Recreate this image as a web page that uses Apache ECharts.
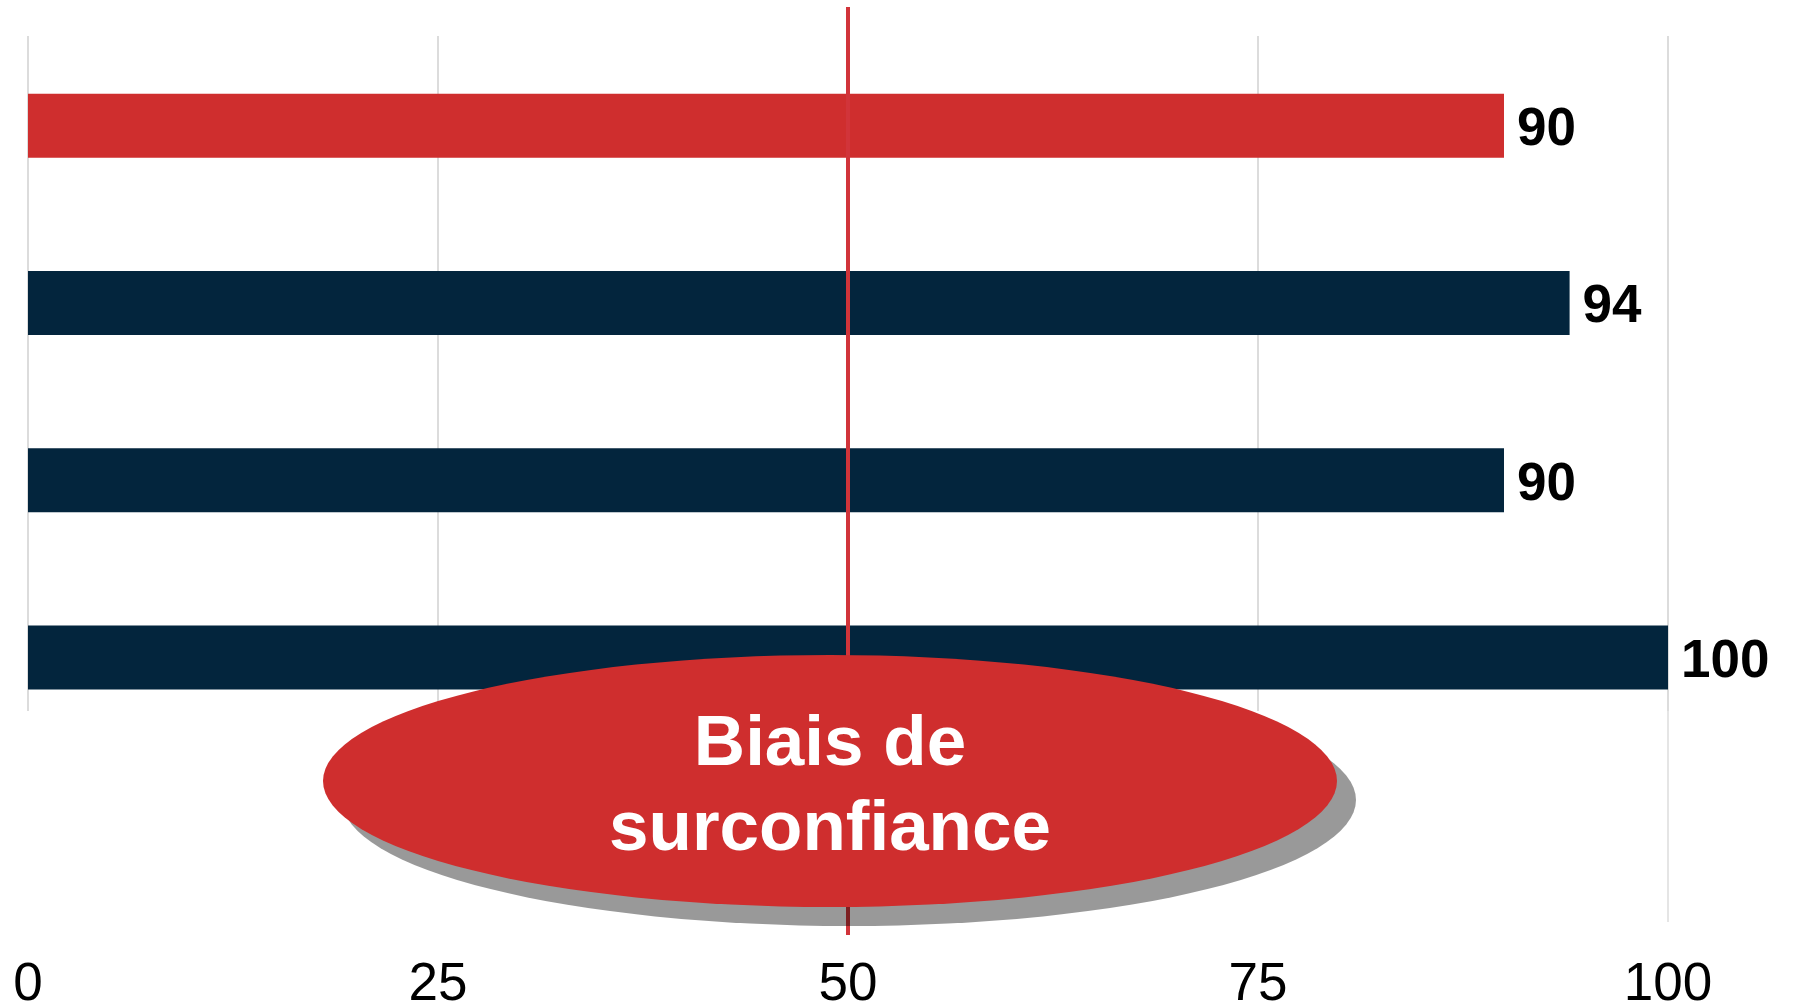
<!DOCTYPE html>
<html>
<head>
<meta charset="utf-8">
<style>
  html, body { margin: 0; padding: 0; background: #ffffff; }
  #chart { width: 1793px; height: 1006px; }
</style>
<script src="https://cdn.jsdelivr.net/npm/echarts@6/dist/echarts.min.js"></script>
</head>
<body>
<div id="chart"></div>
<script>
// Data
const categories = ['A', 'B', 'C', 'D'];
const values = [90, 94, 90, 100];
const tickValues = [0, 25, 50, 75, 100];
const referenceValue = 50;
const highlightIndex = 0;
const calloutLines = ['Biais de', 'surconfiance'];

// Styling
const FONT = '"Liberation Sans", Arial, Helvetica, sans-serif';
const RED = '#cf2e2e';
const NAVY = '#03253d';
const GRID_GRAY = '#dcdcdc';

const axisMin = tickValues[0];
const axisMax = tickValues[tickValues.length - 1];
const axisStep = tickValues[1] - tickValues[0];

const chart = echarts.init(document.getElementById('chart'), null, { renderer: 'canvas' });

const hiddenCategoryAxis = (gridIndex) => ({
  type: 'category',
  gridIndex: gridIndex,
  inverse: true,
  data: categories,
  axisLine: { show: false },
  axisTick: { show: false },
  axisLabel: { show: false },
  splitLine: { show: false }
});

chart.setOption({
  animation: false,
  backgroundColor: '#ffffff',
  grid: [
    // bars
    { left: 28, right: 125, top: 37, height: 709, outerBoundsMode: 'none', containLabel: false },
    // vertical guides inside the plot
    { left: 28, right: 125, top: 36, height: 675, outerBoundsMode: 'none', containLabel: false },
    // right-hand guide running down to the axis area
    { left: 28, right: 125, top: 36, height: 886, outerBoundsMode: 'none', containLabel: false }
  ],
  xAxis: [
    {
      type: 'value', gridIndex: 0,
      min: axisMin, max: axisMax, interval: axisStep,
      axisLine: { show: false },
      axisTick: { show: false },
      splitLine: { show: false },
      axisLabel: {
        color: '#000000', fontFamily: FONT, fontSize: 53,
        lineHeight: 53, margin: 213
      }
    },
    {
      type: 'value', gridIndex: 1,
      min: axisMin, max: axisMax, interval: axisStep,
      axisLine: { show: false },
      axisTick: { show: false },
      axisLabel: { show: false },
      splitLine: { show: true, lineStyle: { color: GRID_GRAY, width: 2 } }
    },
    {
      type: 'value', gridIndex: 2,
      min: axisMin, max: axisMax, interval: axisMax - axisMin,
      axisLine: { show: false },
      axisTick: { show: false },
      axisLabel: { show: false },
      splitLine: { show: true, showMinLine: false, lineStyle: { color: GRID_GRAY, width: 1.5 } }
    }
  ],
  yAxis: [hiddenCategoryAxis(0), hiddenCategoryAxis(1), hiddenCategoryAxis(2)],
  series: [
    {
      type: 'bar',
      xAxisIndex: 0,
      yAxisIndex: 0,
      data: values,
      barWidth: 64,
      z: 3,
      itemStyle: {
        color: (p) => (p.dataIndex === highlightIndex ? RED : NAVY)
      },
      label: {
        show: true,
        position: 'right',
        distance: 13,
        offset: [0, 5],
        color: '#000000',
        fontFamily: FONT,
        fontWeight: 'bold',
        fontSize: 53
      }
    }
  ]
});

// Reference line at the midpoint, plus the callout ellipse that sits on it
const refX = chart.convertToPixel({ xAxisIndex: 0 }, referenceValue);
const ellipseCx = 830, ellipseCy = 781, ellipseRx = 507, ellipseRy = 126;
const shadowOffset = 19;

chart.setOption({
  graphic: [
    {
      type: 'line',
      z: 10,
      shape: { x1: refX, y1: 7, x2: refX, y2: 935 },
      style: { stroke: '#d1343a', lineWidth: 4 }
    },
    {
      type: 'circle',
      z: 11,
      x: ellipseCx + shadowOffset,
      y: ellipseCy + shadowOffset,
      scaleX: ellipseRx / ellipseRy,
      shape: { cx: 0, cy: 0, r: ellipseRy },
      style: { fill: 'rgba(0,0,0,0.4)' }
    },
    {
      type: 'circle',
      z: 12,
      x: ellipseCx,
      y: ellipseCy,
      scaleX: ellipseRx / ellipseRy,
      shape: { cx: 0, cy: 0, r: ellipseRy },
      style: { fill: RED }
    },
    {
      type: 'text',
      z: 13,
      x: ellipseCx,
      y: ellipseCy + 7,
      style: {
        text: calloutLines.join('\n'),
        fill: '#ffffff',
        font: 'bold 71px ' + FONT,
        lineHeight: 85,
        align: 'center',
        verticalAlign: 'middle',
        textAlign: 'center',
        textVerticalAlign: 'middle'
      }
    }
  ]
});
</script>
</body>
</html>
